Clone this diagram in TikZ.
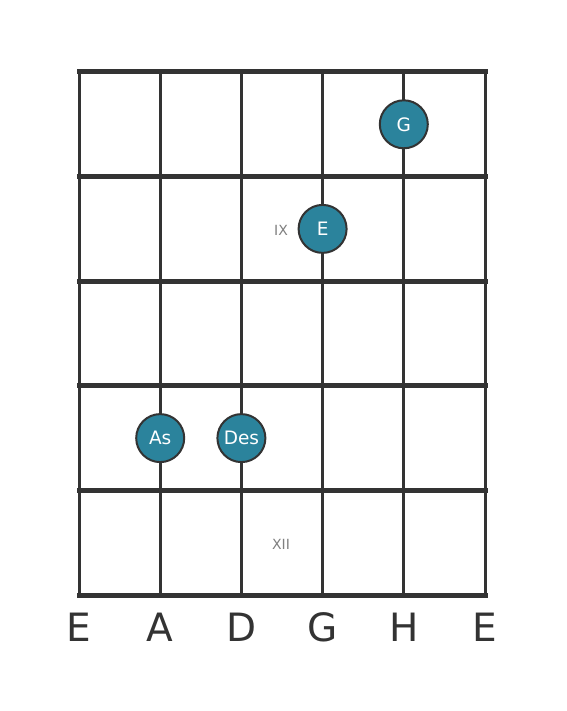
\documentclass[tikz,border=0pt]{standalone}
\usepackage{fontspec}
\setmainfont{DejaVu Sans}
\definecolor{gridc}{HTML}{333333}
\definecolor{dotc}{HTML}{2B839C}
\definecolor{fretlbl}{HTML}{808080}
\begin{document}
\begin{tikzpicture}[x=1pt,y=-1pt,
  stringline/.style={draw=gridc,line width=3pt},
  fretline/.style={draw=gridc,line width=5pt,line cap=rect},
  notedot/.style={circle,fill=dotc,draw=gridc,line width=2pt,minimum size=48pt,inner sep=0pt,text=white,font=\fontsize{18.5}{18.5}\selectfont},
  fretnum/.style={text=fretlbl,font=\fontsize{14}{14}\selectfont,inner sep=0pt},
  strname/.style={text=gridc,font=\fontsize{39}{39}\selectfont,anchor=base,inner sep=0pt}]
\useasboundingbox (0,0) rectangle (566,711);
\fill[white] (0,0) rectangle (566,711);
% strings
\foreach \i/\x in {1/79,2/160.2,3/241.4,4/322.6,5/403.8,6/485}{
  \coordinate (st\i) at (\x,72);
  \coordinate (sb\i) at (\x,595);
  \draw[stringline] (st\i) -- (sb\i);
}
% frets
\foreach \j/\y in {0/72,1/176.6,2/281.2,3/385.8,4/490.4,5/595}{
  \coordinate (fl\j) at (79,\y);
  \coordinate (fr\j) at (485,\y);
  \draw[fretline] (fl\j) -- (fr\j);
}
% fret numbers
\node[fretnum] (ix) at (281,230) {IX};
\node[fretnum] (xii) at (281,544) {XII};
% notes
\node[notedot] (nG) at (403.8,124.3) {G};
\node[notedot] (nE) at (322.6,228.9) {E};
\node[notedot] (nAs) at (160.2,438.1) {As};
\node[notedot] (nDes) at (241.4,438.1) {Des};
% string names
\node[strname] (l1) at (79,641) {E};
\node[strname] (l2) at (160.2,641) {A};
\node[strname] (l3) at (241.4,641) {D};
\node[strname] (l4) at (322.6,641) {G};
\node[strname] (l5) at (403.8,641) {H};
\node[strname] (l6) at (485,641) {E};
\end{tikzpicture}
\end{document}
